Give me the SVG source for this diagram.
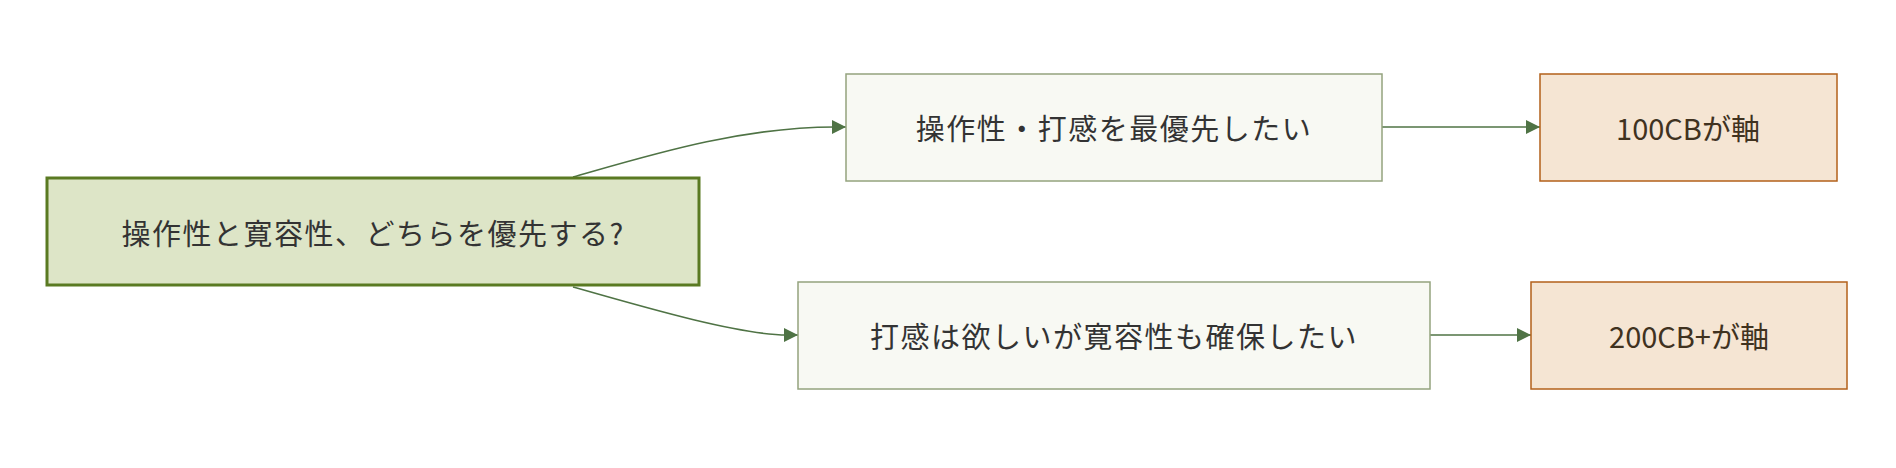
<svg xmlns="http://www.w3.org/2000/svg" width="1896" height="468" viewBox="0 0 1896 468">
<defs>
<marker id="ah" viewBox="0 0 10 10" refX="10" refY="5" markerWidth="14" markerHeight="14" markerUnits="userSpaceOnUse" orient="auto"><path d="M0,0L10,5L0,10z" fill="#4f7345"/></marker>
<style>
text{font-family:"Noto Sans CJK JP","Liberation Sans",sans-serif;font-size:29px;letter-spacing:1.5px;fill:#333;text-anchor:middle;dominant-baseline:central}
.e{fill:none;stroke:#4f7345;stroke-width:1.6;marker-end:url(#ah)}
.m{fill:#f8f9f3;stroke:#94a37e;stroke-width:1.5}
.r{fill:#f5e5d3;stroke:#b3601a;stroke-width:1.5}
.r+text{fill:#40321f;letter-spacing:0}
</style>
</defs>
<rect width="1896" height="468" fill="#fff"/>
<g id="edges">
<path class="e" d="M573,177 C650,155 740,127 835,127 L846,127"/>
<path class="e" d="M573,287 C650,309 740,335 787,335 L798,335"/>
<path class="e" d="M1382,127 L1540,127"/>
<path class="e" d="M1430,335 L1531,335"/>
</g>
<g id="start"><rect x="47" y="178" width="652" height="107" fill="#dde5c7" stroke="#5a7a22" stroke-width="3"/><text x="373" y="232">操作性と寛容性、どちらを優先する?</text></g>
<g id="a"><rect class="m" x="846" y="74" width="536" height="107"/><text x="1114" y="127">操作性・打感を最優先したい</text></g>
<g id="b"><rect class="m" x="798" y="282" width="632" height="107"/><text x="1114" y="335">打感は欲しいが寛容性も確保したい</text></g>
<g id="c"><rect class="r" x="1540" y="74" width="297" height="107"/><text x="1688" y="127">100CBが軸</text></g>
<g id="d"><rect class="r" x="1531" y="282" width="316" height="107"/><text x="1689" y="335">200CB+が軸</text></g>
</svg>
